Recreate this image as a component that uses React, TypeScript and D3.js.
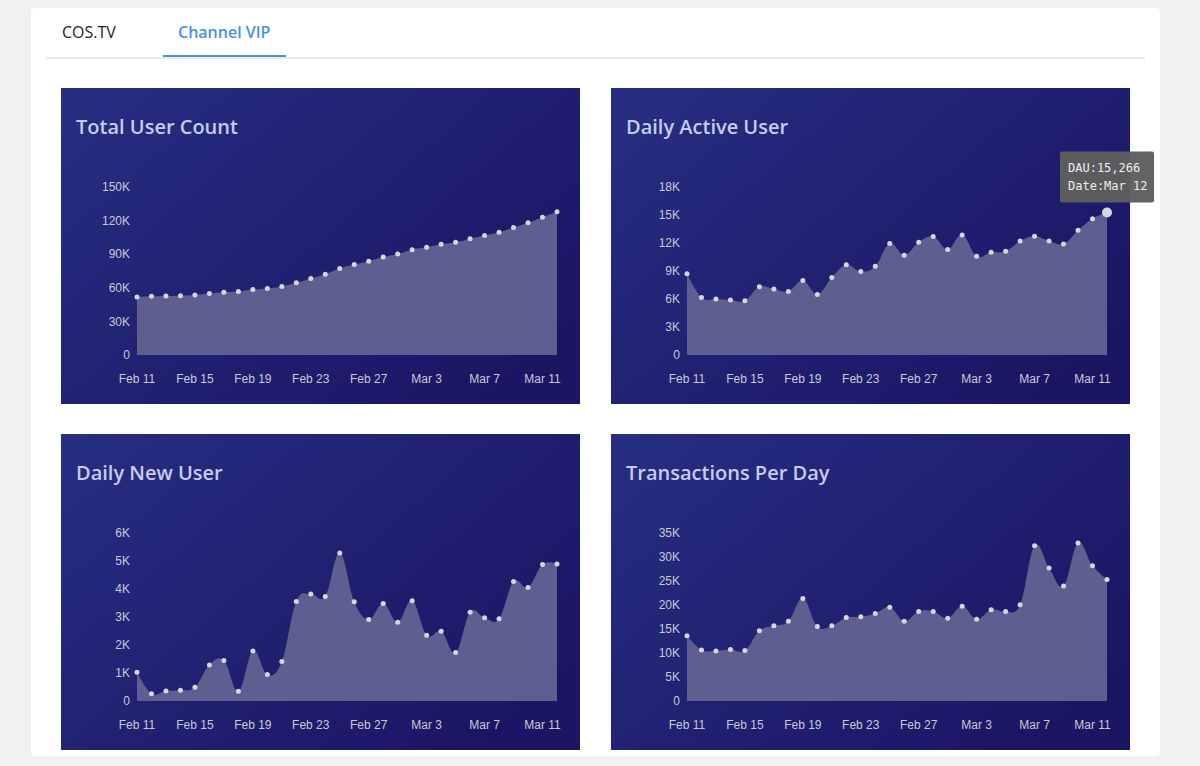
import * as d3 from 'd3'

// Days on the x axis (Feb 11 – Mar 12)
const days = [
  '2019-02-11', '2019-02-12', '2019-02-13', '2019-02-14', '2019-02-15', '2019-02-16',
  '2019-02-17', '2019-02-18', '2019-02-19', '2019-02-20', '2019-02-21', '2019-02-22',
  '2019-02-23', '2019-02-24', '2019-02-25', '2019-02-26', '2019-02-27', '2019-02-28',
  '2019-03-01', '2019-03-02', '2019-03-03', '2019-03-04', '2019-03-05', '2019-03-06',
  '2019-03-07', '2019-03-08', '2019-03-09', '2019-03-10', '2019-03-11', '2019-03-12'
]

const totalUsers = [
  51800, 52400, 52700, 53000, 53600, 54800, 56000, 56600, 58400, 59300,
  61100, 64400, 68300, 72200, 77200, 80800, 83800, 87400, 90100, 94000,
  96100, 98800, 100600, 103900, 106600, 109600, 113800, 118000, 123000, 127800
]

const dailyActive = [
  8700, 6170, 5990, 5880, 5810, 7310, 7060, 6810, 7980, 6490,
  8300, 9660, 8950, 9520, 11940, 10690, 12080, 12690, 11300, 12870,
  10580, 11010, 11120, 12220, 12720, 12220, 11900, 13370, 14610, 15266
]

const dailyNew = [
  1026, 262, 358, 382, 489, 1288, 1443, 346, 1790, 942,
  1408, 3555, 3817, 3734, 5285, 3543, 2911, 3484, 2815, 3579,
  2350, 2493, 1730, 3173, 2970, 2935, 4271, 4056, 4879, 4891
]

const transactions = [
  13570, 10650, 10440, 10720, 10510, 14610, 15660, 16630, 21360, 15520,
  15660, 17400, 17530, 18230, 19550, 16630, 18650, 18650, 17260, 19760,
  17050, 19000, 18650, 20040, 32350, 27690, 23940, 32910, 28180, 25330
]

const totalTicks = [0, 30000, 60000, 90000, 120000, 150000]
const activeTicks = [0, 3000, 6000, 9000, 12000, 15000, 18000]
const newTicks = [0, 1000, 2000, 3000, 4000, 5000, 6000]
const txTicks = [0, 5000, 10000, 15000, 20000, 25000, 30000, 35000]

const tabs = ['COS.TV', 'Channel VIP']

const parseDay = d3.timeParse('%Y-%m-%d')
const dates = days.map(d => parseDay(d) as Date)
const fmtDay = d3.timeFormat('%b %-d')
const fmtK = (v: number) => (v === 0 ? '0' : `${v / 1000}K`)

const PANEL_W = 519
const PANEL_H = 316
const plot = { left: 76, right: 496, top: 99, bottom: 267 }

interface PanelProps {
  id: string
  x: number
  y: number
  title: string
  values: number[]
  ticks: number[]
  highlight?: number
}

const Panel = ({ id, x, y, title, values, ticks, highlight }: PanelProps) => {
  const xs = d3.scaleTime()
    .domain([dates[0], dates[dates.length - 1]])
    .range([plot.left, plot.right])
  const ys = d3.scaleLinear()
    .domain([0, ticks[ticks.length - 1]])
    .range([plot.bottom, plot.top])

  // slightly loose cardinal spline for the rounded look
  const area = d3.area<number>()
    .x((_, i) => xs(dates[i]))
    .y0(ys(0))
    .y1(d => ys(d))
    .curve(d3.curveCardinal.tension(-0.15))

  const xTicks = dates.filter((_, i) => i % 4 === 0)

  return (
    <g transform={`translate(${x},${y})`}>
      <rect width={PANEL_W} height={PANEL_H} fill={`url(#${id})`} />
      <text x={15} y={46} fill="#c8cbef" fontSize={20} fontWeight={600}
        fontFamily="'Open Sans', sans-serif">{title}</text>

      <path d={area(values) ?? ''} fill="#5e5f90" />

      {values.map((v, i) => (
        <circle key={i} cx={xs(dates[i])} cy={ys(v)}
          r={i === highlight ? 5 : 2.5} fill="#d6d6e0" />
      ))}

      <g fontFamily="'Liberation Sans', Arial, sans-serif" fontSize={12} fill="#c9c9d6">
        {ticks.map(t => (
          <text key={t} x={plot.left - 7} y={ys(t)} dy="0.35em" textAnchor="end">{fmtK(t)}</text>
        ))}
        {xTicks.map(d => (
          <text key={+d} x={xs(d)} y={295} textAnchor="middle">{fmtDay(d)}</text>
        ))}
      </g>
    </g>
  )
}

const App = () => {
  // DAU tooltip anchored on the last point of the second panel
  const tipIndex = dates.length - 1
  const tx = d3.scaleTime()
    .domain([dates[0], dates[dates.length - 1]])
    .range([611 + plot.left, 611 + plot.right])
  const ty = d3.scaleLinear()
    .domain([0, activeTicks[activeTicks.length - 1]])
    .range([88 + plot.bottom, 88 + plot.top])
  const px = tx(dates[tipIndex])
  const py = ty(dailyActive[tipIndex])

  return (
    <svg width={1200} height={766}
      style={{ position: 'absolute', left: 0, top: 0, display: 'block' }}>
      <defs>
        {['g1', 'g2', 'g3', 'g4'].map(id => (
          <linearGradient key={id} id={id} x1="0" y1="0" x2="1" y2="0.7">
            <stop offset="0" stopColor="#272e82" />
            <stop offset="1" stopColor="#1b1664" />
          </linearGradient>
        ))}
      </defs>

      <rect width={1200} height={766} fill="#f1f1f1" />
      <rect x={31} y={8} width={1129} height={748} rx={4} fill="#ffffff" />

      {/* tab bar */}
      <line x1={46} x2={1145} y1={58} y2={58} stroke="#e4e4e4" strokeWidth={1.5} />
      <text x={62} y={38} fontSize={16} fill="#222"
        fontFamily="'Open Sans', sans-serif">{tabs[0]}</text>
      <text x={178} y={38} fontSize={16} fontWeight={600} fill="#4a8fe2"
        fontFamily="'Open Sans', sans-serif">{tabs[1]}</text>
      <rect x={163} y={55} width={123} height={2} fill="#4a8fe2" />

      <Panel id="g1" x={61} y={88} title="Total User Count" values={totalUsers} ticks={totalTicks} />
      <Panel id="g2" x={611} y={88} title="Daily Active User" values={dailyActive} ticks={activeTicks}
        highlight={tipIndex} />
      <Panel id="g3" x={61} y={434} title="Daily New User" values={dailyNew} ticks={newTicks} />
      <Panel id="g4" x={611} y={434} title="Transactions Per Day" values={transactions} ticks={txTicks} />

      {/* tooltip */}
      <g transform={`translate(${px - 47},${py - 61})`}>
        <rect width={94} height={51} rx={2} fill="#5e5e5e" opacity={0.97} />
        <g fontFamily="'DejaVu Sans Mono', monospace" fontSize={12} fill="#eeeeee">
          <text x={8} y={20}>{`DAU:${d3.format(',')(dailyActive[tipIndex])}`}</text>
          <text x={8} y={38}>{`Date:${fmtDay(dates[tipIndex])}`}</text>
        </g>
      </g>
    </svg>
  )
}

export default App
